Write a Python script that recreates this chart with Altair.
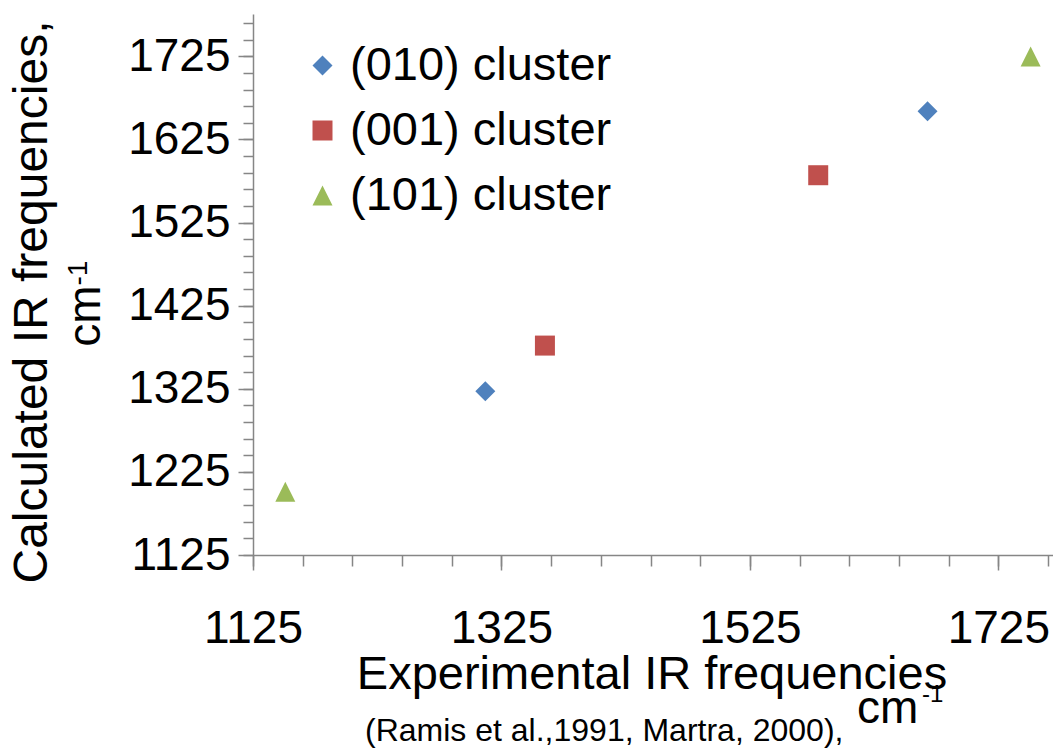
import altair as alt
import pandas as pd

FONT = "Liberation Sans, Arial, sans-serif"
AXIS_COLOR = "#868686"

# Series definitions
series_names = ["(010) cluster", "(001) cluster", "(101) cluster"]
series_colors = ["#4F81BD", "#C0504D", "#9BBB59"]
series_shapes = ["diamond", "square", "M0,-1L1,1L-1,1Z"]

# Data points
cluster = ["(010) cluster", "(010) cluster",
           "(001) cluster", "(001) cluster",
           "(101) cluster", "(101) cluster"]
experimental = [1312, 1668, 1360, 1580, 1151, 1751]
calculated = [1322, 1659, 1377, 1582, 1201, 1725]

# Tick values
x_major = [1125, 1325, 1525, 1725]
x_minor = [1125, 1165, 1205, 1245, 1285, 1325, 1365, 1405, 1445, 1485,
           1525, 1565, 1605, 1645, 1685, 1725, 1765]
y_major = [1125, 1225, 1325, 1425, 1525, 1625, 1725]
y_minor = [1125, 1145, 1165, 1185, 1205, 1225, 1245, 1265, 1285, 1305,
           1325, 1345, 1365, 1385, 1405, 1425, 1445, 1465, 1485, 1505,
           1525, 1545, 1565, 1585, 1605, 1625, 1645, 1665, 1685, 1705,
           1725, 1745, 1765]

# Titles
y_title_line1 = ["Calculated IR frequencies,"]
y_title_unit = ["cm"]
y_title_sup = ["-1"]
x_title_line1 = ["Experimental IR frequencies"]
x_title_ref = ["(Ramis et al.,1991, Martra, 2000),"]
x_title_unit = ["cm"]
x_title_sup = ["-1"]

df = pd.DataFrame({"cluster": cluster, "exp": experimental, "calc": calculated})

x_scale = alt.Scale(domain=[1125, 1769], nice=False, zero=False)
y_scale = alt.Scale(domain=[1125, 1776], nice=False, zero=False)

common = dict(grid=False, domainColor=AXIS_COLOR, tickColor=AXIS_COLOR,
              domainWidth=1.5, tickWidth=1.5, labelFont=FONT, labelFontSize=46,
              labelColor="black", title=None, format="d", labelFlush=False,
              labelOverlap=False)

leg = alt.Legend(title=None, orient="none", legendX=46, legendY=28,
                 labelFont=FONT, labelFontSize=47, labelColor="black",
                 symbolSize=400, symbolStrokeWidth=0, rowPadding=17,
                 labelOffset=4, padding=0, labelLimit=500)

points = alt.Chart(df).mark_point(filled=True, size=400, opacity=1, strokeWidth=0).encode(
    x=alt.X("exp:Q", scale=x_scale,
            axis=alt.Axis(orient="bottom", values=x_major, tickSize=15, labelPadding=36, **common)),
    y=alt.Y("calc:Q", scale=y_scale,
            axis=alt.Axis(orient="left", values=y_major, tickSize=15, labelPadding=8, **common)),
    color=alt.Color("cluster:N", scale=alt.Scale(domain=series_names, range=series_colors), legend=leg),
    shape=alt.Shape("cluster:N", scale=alt.Scale(domain=series_names, range=series_shapes), legend=leg),
)

minor_common = dict(grid=False, domain=False, labels=False, tickColor=AXIS_COLOR,
                    tickWidth=1.5, title=None)

minor = alt.Chart(df).mark_point(opacity=0).encode(
    x=alt.X("exp:Q", scale=x_scale,
            axis=alt.Axis(orient="bottom", values=x_minor, tickSize=11, **minor_common)),
    y=alt.Y("calc:Q", scale=y_scale,
            axis=alt.Axis(orient="left", values=y_minor, tickSize=10, **minor_common)),
)


def txt(text, x, y, size, angle=0, align="center"):
    return alt.Chart(pd.DataFrame({"t": text})).mark_text(
        font=FONT, fontSize=size, angle=angle, align=align,
        baseline="alphabetic", color="black"
    ).encode(text="t:N", x=alt.value(x), y=alt.value(y))


texts = [
    txt(y_title_line1, -206, 288, 48, angle=270),
    txt(y_title_unit, -153, 302, 46, angle=270),
    txt(y_title_sup, -166, 259, 28, angle=270),
    txt(x_title_line1, 399, 675, 47),
    txt(x_title_ref, 112, 727, 32, align="left"),
    txt(x_title_unit, 604, 709, 46, align="left"),
    txt(x_title_sup, 669, 688, 24, align="left"),
]

chart = alt.layer(points, minor, *texts).resolve_axis(
    x="independent", y="independent"
).properties(
    width=800, height=541,
    autosize=alt.AutoSizeParams(type="none"),
    padding={"left": 253, "top": 14, "right": 0, "bottom": 195},
).configure_view(stroke=None)

chart.save("out.html", embed_options={"renderer": "svg", "actions": False})
